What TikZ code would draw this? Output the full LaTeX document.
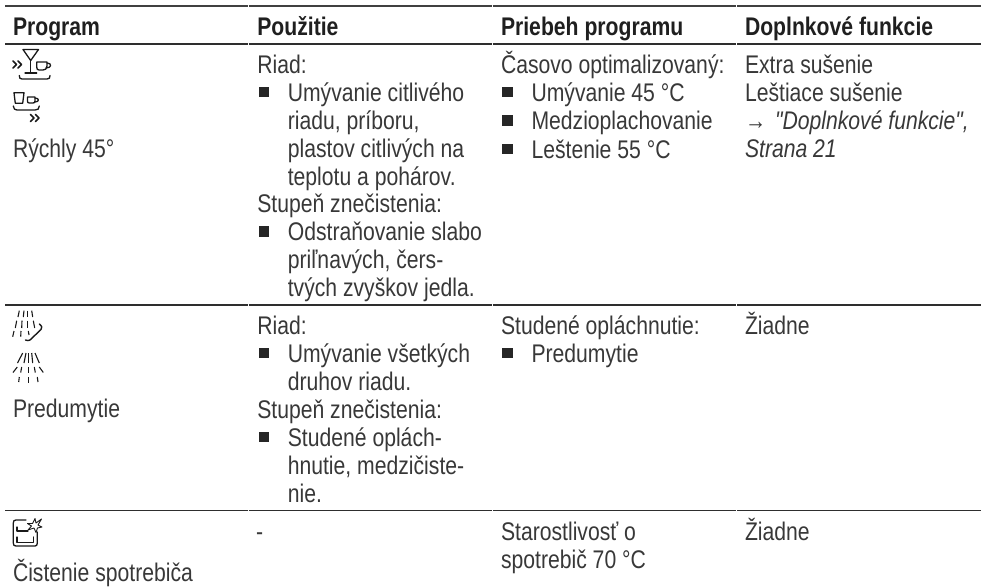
\documentclass[tikz,border=0pt]{standalone}
\usepackage{fontspec}
\setmainfont[FakeStretch=0.83,Ligatures=TeXOff]{Liberation Sans}
\newcommand{\lh}{\fontsize{25.5}{27}\selectfont}
\begin{document}
\begin{tikzpicture}[x=1pt,y=-1pt,
  txt/.style={anchor=base west,inner sep=0pt,outer sep=0pt,text=black!78,font=\lh},
  hd/.style={anchor=base west,inner sep=0pt,outer sep=0pt,text=black!88,font=\lh\bfseries},
  bul/.style={anchor=center,fill=black!85,minimum size=10.3pt,inner sep=0pt,outer sep=0pt},
  rule/.style={draw=black!82,line width=1.4pt},
  topr/.style={draw=black!75,line width=1.9pt},
  ico/.style={draw=black!90,line width=1.3pt,line cap=round,line join=round},
  dsh/.style={draw=black!90,line width=1.1pt}]
\useasboundingbox (0,0) rectangle (982,587);
\newcommand{\itm}[4]{\node[bul] (#1b) at (#2+6.6,#4-9) {};\node[txt] (#1) at (#2+30.5,#4) {#3};}
% rules, one piece per column
\foreach \yy/\st in {6/topr,44/rule,305/rule,510.7/rule}{
  \coordinate (la) at (5,\yy); \coordinate (lb) at (248,\yy);
  \coordinate (lc) at (248.7,\yy); \coordinate (ld) at (492,\yy);
  \coordinate (le) at (492.7,\yy); \coordinate (lf) at (736.4,\yy);
  \coordinate (lg) at (737.1,\yy); \coordinate (lh) at (980.5,\yy);
  \draw[\st] (la) -- (lb); \draw[\st] (lc) -- (ld); \draw[\st] (le) -- (lf); \draw[\st] (lg) -- (lh);
}
% header
\node[hd] (h1) at (13,35) {Program};
\node[hd] (h2) at (257.3,35) {Použitie};
\node[hd] (h3) at (501,35) {Priebeh programu};
\node[hd] (h4) at (745,35) {Doplnkové funkcie};
% col 1
\node[txt] (p1) at (13,157) {Rýchly 45°};
\node[txt] (p2) at (13,417) {Predumytie};
\node[txt] (p3) at (13,581) {Čistenie spotrebiča};
% row 1
\node[txt] (a1) at (257.3,73) {Riad:};
\itm{a2}{257.3}{Umývanie citlivého}{101}
\node[txt] (a3) at (287.8,129) {riadu, príboru,};
\node[txt] (a4) at (287.8,157) {plastov citlivých na};
\node[txt] (a5) at (287.8,185) {teplotu a pohárov.};
\node[txt] (a6) at (257.3,212.5) {Stupeň znečistenia:};
\itm{a7}{257.3}{Odstraňovanie slabo}{240.5}
\node[txt] (a8) at (287.8,268.5) {priľnavých, čers-};
\node[txt] (a9) at (287.8,296.5) {tvých zvyškov jedla.};
\node[txt] (b1) at (501,73) {Časovo optimalizovaný:};
\itm{b2}{501}{Umývanie 45 °C}{101}
\itm{b3}{501}{Medzioplachovanie}{129.5}
\itm{b4}{501}{Leštenie 55 °C}{158}
\node[txt] (c1) at (745,73) {Extra sušenie};
\node[txt] (c2) at (745,101) {Leštiace sušenie};
\node[txt] (c3) at (745,129) {→\kern3pt{} \itshape "Doplnkové funkcie",};
\node[txt] (c4) at (745,157) {\itshape Strana 21};
% row 2
\node[txt] (d1) at (257.3,334) {Riad:};
\itm{d2}{257.3}{Umývanie všetkých}{362}
\node[txt] (d3) at (287.8,390) {druhov riadu.};
\node[txt] (d4) at (257.3,418) {Stupeň znečistenia:};
\itm{d5}{257.3}{Studené oplách-}{446}
\node[txt] (d6) at (287.8,474) {hnutie, medzičiste-};
\node[txt] (d7) at (287.8,502) {nie.};
\node[txt] (e1) at (501,334) {Studené opláchnutie:};
\itm{e2}{501}{Predumytie}{362}
\node[txt] (f1) at (745,334) {Žiadne};
% row 3
\node[txt] (g1) at (256,540) {-};
\node[txt] (g2) at (501,540) {Starostlivosť o};
\node[txt] (g3) at (501,568) {spotrebič 70 °C};
\node[txt] (g4) at (745,540) {Žiadne};
% icon 1
\draw[ico] (23,49.5) -- (38.5,49.5) -- (30.7,60.5) -- cycle;
\draw[ico] (30.7,60.5) -- (30.7,73) (25,73) -- (36.7,73);
\draw[ico] (36.7,62) -- (47,62) -- (47,66) .. controls (47,69) and (45,70) .. (43,70) -- (39,70) .. controls (37.5,70) and (36.7,69) .. (36.7,67) -- cycle;
\draw[ico] (47,63) .. controls (52,63) and (52,68) .. (46,68);
\draw[ico,line width=1.6pt] (13,61) -- (16.5,64.5) -- (13,68) (18,61) -- (21.5,64.5) -- (18,68);
\draw[ico] (19.3,75.5) .. controls (19.3,78) and (20,79) .. (22,79) -- (47,79) .. controls (49.5,79) and (50,78) .. (50,75.5);
% icon 2
\draw[ico] (14,92.7) -- (24,92.7) -- (22.7,103.3) -- (15.3,103.3) -- cycle;
\draw[ico] (27.5,97) -- (35,97) -- (35,101) .. controls (35,102.5) and (34,103) .. (33,103) -- (29.5,103) .. controls (28,103) and (27.5,102.5) .. (27.5,101) -- cycle;
\draw[ico] (35,98) .. controls (39.5,98) and (39.5,102) .. (35,102);
\draw[ico] (13.3,106) .. controls (13.5,109) and (15,110) .. (17,110) -- (35,110) .. controls (38,110) and (39,109) .. (39.3,106);
\draw[ico,line width=1.5pt] (30.5,114.5) -- (34,118) -- (30.5,121.5) (35.5,114.5) -- (39,118) -- (35.5,121.5);
% icon 3
\foreach \a/\b/\c/\d in {19.3/310.7/18/317,24/310.7/23.3/317,27.7/310.7/27.7/317,31.7/310.7/32.7/317,
  16.7/320.7/15.3/328,22/320.7/21.7/328,27.7/320.7/27.7/328,33.3/320.7/34.7/328,
  14/331/12.7/336.7,21/331/20.7/336.7,28.3/331/29/335}
  \draw[dsh] (\a,\b) -- (\c,\d);
\draw[ico,line width=1.4pt] (25.5,340) .. controls (27,341) and (29,340.5) .. (30,340) -- (41,329.5) .. controls (42.5,328) and (42,326) .. (39.3,324);
% icon 4
\foreach \a/\b/\c/\d in {22.7/353/17.5/363,26/353/24/363,28.3/353/28.3/363,31.7/353/32.7/363,35/353/39.3/363,
  17.3/367/13/372.5,21.7/367/20.7/372.5,28.3/367/28.3/372.5,34.3/367/35.3/372.5,39.3/367/43.3/372.5,
  19.3/377/18.7/382,28.3/377/28.3/383,37.3/377/38/382}
  \draw[dsh] (\a,\b) -- (\c,\d);
% icon 5
\draw[ico] (26,520) -- (16,520) .. controls (14,520) and (13.3,521) .. (13.3,523) -- (13.3,543) .. controls (13.3,545) and (14,546) .. (16,546) -- (35,546) .. controls (36.5,546) and (37.3,545) .. (37.3,543) -- (37.3,532);
\draw[ico] (17,527) -- (17,531) -- (28,531);
\draw[ico] (17,537) -- (17,542.5) -- (33.5,542.5) -- (33.5,537);
\draw[ico,line width=.9pt] (35,518.5) -- (36,523) -- (41.5,519) -- (38,525) -- (42,527) -- (37.5,528) -- (36,532.5) -- (34,528) -- (28,530) -- (31.5,526) -- (27.5,523.5) -- (32.5,523.5) -- cycle;
\end{tikzpicture}
\end{document}
